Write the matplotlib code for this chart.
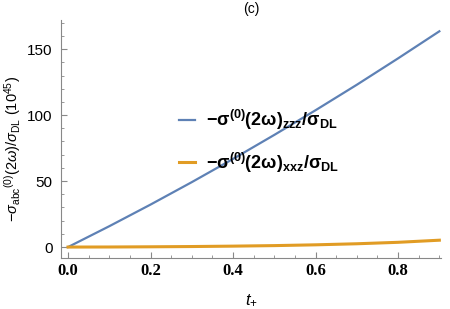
import numpy as np
import matplotlib.pyplot as plt
from matplotlib.ticker import MultipleLocator

# values (units of 10^45)
t_plus = [0.0, 0.1, 0.2, 0.3, 0.4, 0.5, 0.6, 0.7, 0.8, 0.9]
sigma_zzz = [0.0, 15.8, 32.2, 49.2, 66.8, 85.0, 103.7, 123.0, 143.0, 163.5]
sigma_xxz = [0.0, 0.05, 0.2, 0.4, 0.7, 1.1, 1.7, 2.5, 3.6, 5.2]

blue = '#5E81B5'
orange = '#E19C24'

plt.rcParams['mathtext.fontset'] = 'custom'
plt.rcParams['mathtext.rm'] = 'Liberation Sans'
plt.rcParams['mathtext.it'] = 'Liberation Sans:italic'
plt.rcParams['mathtext.bf'] = 'Liberation Sans:bold'

fig = plt.figure(figsize=(4.5, 3.09), dpi=100)
ax = fig.add_axes([0.1356, 0.165, 0.8444, 0.77])

ax.plot(t_plus, sigma_zzz, color=blue, lw=1.6,
        label=r'$\mathbf{-\sigma^{(0)}(2\omega)_{zzz}/\sigma_{DL}}$')
ax.plot(t_plus, sigma_xxz, color=orange, lw=2.2,
        label=r'$\mathbf{-\sigma^{(0)}(2\omega)_{xxz}/\sigma_{DL}}$')

ax.set_xlim(-0.017, 0.904)
ax.set_ylim(-8.3, 172)

for s in ['top', 'right']:
    ax.spines[s].set_visible(False)
for s in ['left', 'bottom']:
    ax.spines[s].set_color('#888888')

ax.xaxis.set_major_locator(MultipleLocator(0.2))
ax.xaxis.set_minor_locator(MultipleLocator(0.05))
ax.yaxis.set_major_locator(MultipleLocator(50))
ax.yaxis.set_minor_locator(MultipleLocator(10))
ax.tick_params(which='both', direction='in', color='#888888')
ax.tick_params(which='major', length=4)
ax.tick_params(which='minor', length=2.5)
ax.tick_params(axis='y', labelsize=11, pad=6)
ax.xaxis.set_major_formatter(plt.FormatStrFormatter('%.1f'))
for lab in ax.get_xticklabels():
    lab.set_fontfamily('Liberation Serif')
    lab.set_fontweight('bold')
    lab.set_fontsize(12)
for lab in ax.get_yticklabels():
    lab.set_fontfamily('Liberation Sans')

ax.set_xlabel(r'$t_{+}$', fontsize=12, labelpad=8)
ax.set_ylabel(r'$-\sigma_{\mathrm{abc}}{}^{(0)}(2\omega)/\sigma_{\mathrm{DL}}\ (10^{45})$',
              fontsize=10.5, labelpad=3)
ax.yaxis.set_label_coords(-0.1, 0.46)
ax.set_title('(c)', fontsize=10, family='Liberation Sans', pad=5)

ax.legend(loc='center left', bbox_to_anchor=(0.31, 0.49), frameon=False,
          fontsize=13, handlelength=0.9, handletextpad=0.6,
          labelspacing=1.0, borderpad=0, borderaxespad=0)

fig.savefig('out.png', dpi=100)
